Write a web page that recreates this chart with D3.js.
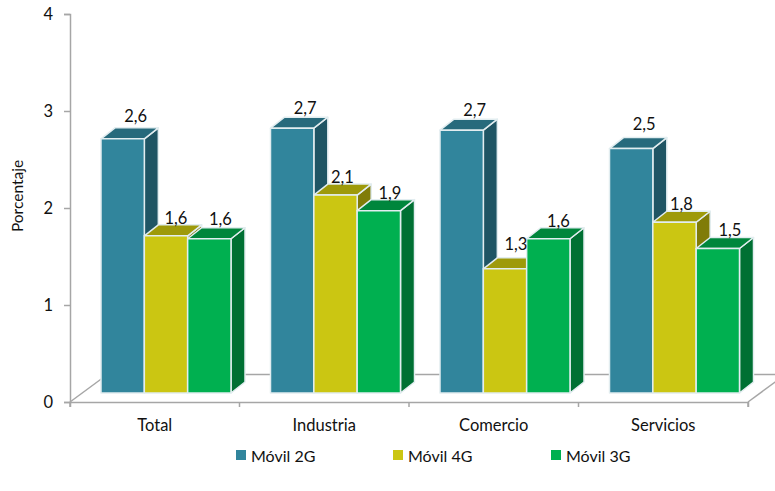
<!DOCTYPE html>
<html>
<head>
<meta charset="utf-8">
<script src="https://cdn.jsdelivr.net/npm/d3@7"></script>
<style>
html,body{margin:0;padding:0;background:#fff;overflow:hidden}
svg{display:block}
text{font-family:Lato,"Open Sans",sans-serif;fill:#111}
</style>
</head>
<body>
<svg id="c" width="775" height="491"></svg>
<script>
const categories = ["Total","Industria","Comercio","Servicios"];
const seriesNames = ["Móvil 2G","Móvil 4G","Móvil 3G"];
const movil2G = [2.62,2.73,2.71,2.52];
const movil4G = [1.62,2.04,1.28,1.76];
const movil3G = [1.59,1.88,1.59,1.49];
const labels2G = ["2,6","2,7","2,7","2,5"];
const labels4G = ["1,6","2,1","1,3","1,8"];
const labels3G = ["1,6","1,9","1,6","1,5"];
const yTicks = [0,1,2,3,4];
const frontColors = ["#31859c","#cbc612","#00b050"];
const topColors   = ["#276a7c","#9e9a0a","#00863c"];
const sideColors  = ["#1f5564","#807c08","#007033"];

const seriesValues = [movil2G,movil4G,movil3G];
const seriesLabels = [labels2G,labels4G,labels3G];

const svg = d3.select("#c");
const axisColor = "#a6a6a6";
const depthX = 14, depthY = 11, baseLift = 9;

const x = d3.scaleBand().domain(categories).range([70,748]).paddingInner(0).paddingOuter(0);
const xs = d3.scaleBand().domain(seriesNames).range([31,161]);
const y = d3.scaleLinear().domain([0,4]).range([402,14]);

// floor
const floor = svg.append("g").attr("fill","none").attr("stroke",axisColor).attr("stroke-width",1.5);
floor.append("line").attr("x1",70).attr("y1",402).attr("x2",108).attr("y2",374);
floor.append("line").attr("x1",108).attr("y1",374.5).attr("x2",775).attr("y2",374.5);
floor.append("line").attr("x1",748).attr("y1",402).attr("x2",786).attr("y2",374);

// axes
const yAxis = svg.append("g").attr("transform","translate(70,0)").call(d3.axisLeft(y).tickValues(yTicks).tickSize(6).tickPadding(11).tickFormat(d3.format("d")));
const xAxis = svg.append("g").attr("transform","translate(0,402)").call(d3.axisBottom(x).tickSizeOuter(5).tickSizeInner(5).tickPadding(12));
xAxis.selectAll(".tick line").remove();
xAxis.selectAll(".tick text").attr("dy","0.75em");
const xTickVals = categories.map(c=>x(c)).concat([x.range()[1]]);
xAxis.selectAll("line.tk").data(xTickVals).join("line").attr("class","tk")
  .attr("x1",d=>d).attr("x2",d=>d).attr("y1",0).attr("y2",5);
[yAxis,xAxis].forEach(a=>{
  a.selectAll("path").attr("stroke",axisColor).attr("stroke-width",1.5);
  a.selectAll("line").attr("stroke",axisColor).attr("stroke-width",1.5);
  a.selectAll("text").style("font-family","Lato,'Open Sans',sans-serif").style("font-size","16.5px").attr("fill","#111");
});
yAxis.selectAll("text").style("font-size","16.5px");

// bars
const barStroke = "#e2edf0";
const bars = svg.append("g").attr("stroke",barStroke).attr("stroke-width",1.5).attr("stroke-linejoin","round");
const poly = pts => pts.map(p=>p.join(",")).join(" ");
categories.forEach((cat,ci)=>{
  seriesNames.forEach((s,si)=>{
    const v = seriesValues[si][ci];
    const x0 = x(cat)+xs(s), w = xs.bandwidth();
    const yBase = y(0)-baseLift, yTop = y(v)-baseLift;
    bars.append("polygon").attr("fill",sideColors[si])
      .attr("points",poly([[x0+w,yTop],[x0+w+depthX,yTop-depthY],[x0+w+depthX,yBase-depthY],[x0+w,yBase]]));
    bars.append("polygon").attr("fill",topColors[si])
      .attr("points",poly([[x0,yTop],[x0+depthX,yTop-depthY],[x0+w+depthX,yTop-depthY],[x0+w,yTop]]));
    bars.append("rect").attr("fill",frontColors[si])
      .attr("x",x0).attr("y",yTop).attr("width",w).attr("height",yBase-yTop);
  });
});

// value labels (manual nudges as in the source chart)
const nudgeX = [[13,13,13,13],[10,7,11,7],[11,11,10,12]];
const nudgeY = [[12,9,9,14],[7,7,14,7],[9,7,7,7]];
categories.forEach((cat,ci)=>{
  seriesNames.forEach((s,si)=>{
    const v = seriesValues[si][ci];
    const cx = x(cat)+xs(s)+xs.bandwidth()/2+nudgeX[si][ci];
    const cy = y(v)-baseLift-depthY-nudgeY[si][ci];
    svg.append("text").attr("x",cx).attr("y",cy).attr("text-anchor","middle")
      .attr("dominant-baseline","central").style("font-size","16.5px").text(seriesLabels[si][ci]);
  });
});

// y title
svg.append("text").attr("transform","translate(17,196) rotate(-90)").attr("text-anchor","middle")
  .attr("dominant-baseline","central").style("font-size","15.5px").text("Porcentaje");

// legend
const legendX = d3.scaleOrdinal().domain(seriesNames).range([236,393,551]);
const legend = svg.append("g");
seriesNames.forEach((s,i)=>{
  legend.append("rect").attr("x",legendX(s)).attr("y",450).attr("width",10).attr("height",10).attr("fill",frontColors[i]);
  legend.append("text").attr("x",legendX(s)+15).attr("y",455).attr("dominant-baseline","central")
    .style("font-size","16px").text(s);
});
</script>
</body>
</html>
